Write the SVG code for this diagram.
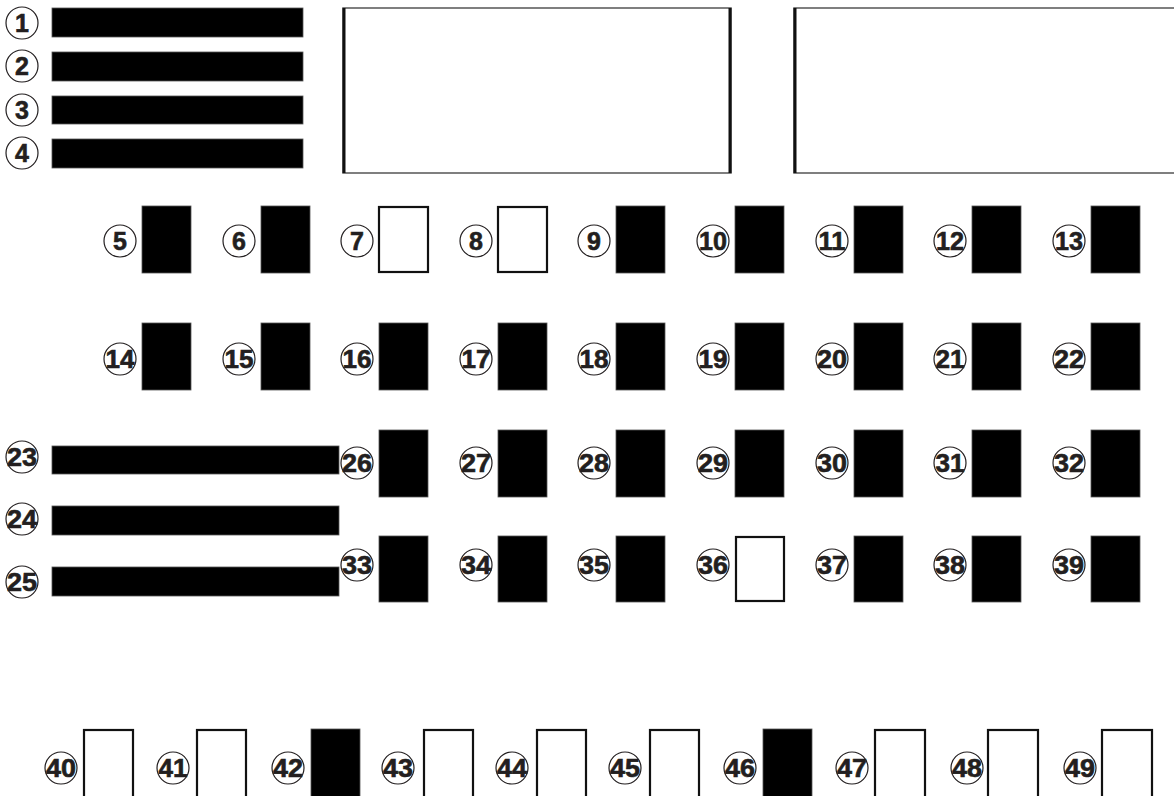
<svg xmlns="http://www.w3.org/2000/svg" width="1174" height="796" viewBox="0 0 1174 796">
<style>
.bk{fill:#000;stroke:#555;stroke-width:0.8}
.wt{fill:#fff;stroke:#111;stroke-width:2.2}
.big{fill:#fff;stroke:#555;stroke-width:1.5}
.side{stroke:#111;stroke-width:3}
.c{fill:#fff;stroke:#231f20;stroke-width:1.2}
.t{font-family:"Liberation Sans",Arial,sans-serif;font-weight:bold;font-size:25px;fill:#231f20;text-anchor:middle;stroke:#231f20;stroke-width:0.6}
</style>
<rect width="1174" height="796" fill="#fff"/>
<g id="panels">
<g id="box-a"><rect class="big" x="343" y="8" width="388" height="165"/><line class="side" x1="344" y1="8" x2="344" y2="173"/><line class="side" x1="730" y1="8" x2="730" y2="173"/></g>
<g id="box-b"><rect class="big" x="794" y="8" width="400" height="165"/><line class="side" x1="795" y1="8" x2="795" y2="173"/></g>
</g>
<g id="connectors"></g>
<g id="n1"><circle class="c" cx="22" cy="23" r="16"/><text class="t" x="22" y="32">1</text><rect class="bk" x="52" y="8" width="251" height="29"/></g>
<g id="n2"><circle class="c" cx="22" cy="66" r="16"/><text class="t" x="22" y="75">2</text><rect class="bk" x="52" y="52" width="251" height="29"/></g>
<g id="n3"><circle class="c" cx="22" cy="110" r="16"/><text class="t" x="22" y="119">3</text><rect class="bk" x="52" y="96" width="251" height="28"/></g>
<g id="n4"><circle class="c" cx="22" cy="153" r="16"/><text class="t" x="22" y="162">4</text><rect class="bk" x="52" y="139" width="251" height="29"/></g>

<g id="n5"><circle class="c" cx="120" cy="241" r="16"/><text class="t" x="120" y="250">5</text><rect class="bk" x="142" y="206" width="49" height="67"/></g>
<g id="n6"><circle class="c" cx="239" cy="241" r="16"/><text class="t" x="239" y="250">6</text><rect class="bk" x="261" y="206" width="49" height="67"/></g>
<g id="n7"><circle class="c" cx="357" cy="241" r="16"/><text class="t" x="357" y="250">7</text><rect class="wt" x="379" y="207" width="49" height="65"/></g>
<g id="n8"><circle class="c" cx="476" cy="241" r="16"/><text class="t" x="476" y="250">8</text><rect class="wt" x="498" y="207" width="49" height="65"/></g>
<g id="n9"><circle class="c" cx="594" cy="241" r="16"/><text class="t" x="594" y="250">9</text><rect class="bk" x="616" y="206" width="49" height="67"/></g>
<g id="n10"><circle class="c" cx="713" cy="241" r="16"/><text class="t" x="713" y="250" textLength="28" lengthAdjust="spacingAndGlyphs">10</text><rect class="bk" x="735" y="206" width="49" height="67"/></g>
<g id="n11"><circle class="c" cx="832" cy="241" r="16"/><text class="t" x="832" y="250" textLength="27" lengthAdjust="spacingAndGlyphs">11</text><rect class="bk" x="854" y="206" width="49" height="67"/></g>
<g id="n12"><circle class="c" cx="950" cy="241" r="16"/><text class="t" x="950" y="250" textLength="28" lengthAdjust="spacingAndGlyphs">12</text><rect class="bk" x="972" y="206" width="49" height="67"/></g>
<g id="n13"><circle class="c" cx="1069" cy="241" r="16"/><text class="t" x="1069" y="250" textLength="28" lengthAdjust="spacingAndGlyphs">13</text><rect class="bk" x="1091" y="206" width="49" height="67"/></g>

<g id="n14"><circle class="c" cx="120" cy="359" r="16"/><text class="t" x="120" y="368" textLength="29" lengthAdjust="spacingAndGlyphs">14</text><rect class="bk" x="142" y="323" width="49" height="67"/></g>
<g id="n15"><circle class="c" cx="239" cy="359" r="16"/><text class="t" x="239" y="368" textLength="29" lengthAdjust="spacingAndGlyphs">15</text><rect class="bk" x="261" y="323" width="49" height="67"/></g>
<g id="n16"><circle class="c" cx="357" cy="359" r="16"/><text class="t" x="357" y="368" textLength="29" lengthAdjust="spacingAndGlyphs">16</text><rect class="bk" x="379" y="323" width="49" height="67"/></g>
<g id="n17"><circle class="c" cx="476" cy="359" r="16"/><text class="t" x="476" y="368" textLength="29" lengthAdjust="spacingAndGlyphs">17</text><rect class="bk" x="498" y="323" width="49" height="67"/></g>
<g id="n18"><circle class="c" cx="594" cy="359" r="16"/><text class="t" x="594" y="368" textLength="29" lengthAdjust="spacingAndGlyphs">18</text><rect class="bk" x="616" y="323" width="49" height="67"/></g>
<g id="n19"><circle class="c" cx="713" cy="359" r="16"/><text class="t" x="713" y="368" textLength="29" lengthAdjust="spacingAndGlyphs">19</text><rect class="bk" x="735" y="323" width="49" height="67"/></g>
<g id="n20"><circle class="c" cx="832" cy="359" r="16"/><text class="t" x="832" y="368" textLength="30" lengthAdjust="spacingAndGlyphs">20</text><rect class="bk" x="854" y="323" width="49" height="67"/></g>
<g id="n21"><circle class="c" cx="950" cy="359" r="16"/><text class="t" x="950" y="368" textLength="29" lengthAdjust="spacingAndGlyphs">21</text><rect class="bk" x="972" y="323" width="49" height="67"/></g>
<g id="n22"><circle class="c" cx="1069" cy="359" r="16"/><text class="t" x="1069" y="368" textLength="30" lengthAdjust="spacingAndGlyphs">22</text><rect class="bk" x="1091" y="323" width="49" height="67"/></g>

<g id="n23"><circle class="c" cx="22" cy="457" r="16"/><text class="t" x="22" y="466" textLength="30" lengthAdjust="spacingAndGlyphs">23</text><rect class="bk" x="52" y="446" width="287" height="28"/></g>
<g id="n24"><circle class="c" cx="22" cy="519" r="16"/><text class="t" x="22" y="528" textLength="30" lengthAdjust="spacingAndGlyphs">24</text><rect class="bk" x="52" y="506" width="287" height="29"/></g>
<g id="n25"><circle class="c" cx="22" cy="582" r="16"/><text class="t" x="22" y="591" textLength="30" lengthAdjust="spacingAndGlyphs">25</text><rect class="bk" x="52" y="567" width="287" height="29"/></g>

<g id="n26"><circle class="c" cx="357" cy="463" r="16"/><text class="t" x="357" y="472" textLength="30" lengthAdjust="spacingAndGlyphs">26</text><rect class="bk" x="379" y="430" width="49" height="67"/></g>
<g id="n27"><circle class="c" cx="476" cy="463" r="16"/><text class="t" x="476" y="472" textLength="30" lengthAdjust="spacingAndGlyphs">27</text><rect class="bk" x="498" y="430" width="49" height="67"/></g>
<g id="n28"><circle class="c" cx="594" cy="463" r="16"/><text class="t" x="594" y="472" textLength="30" lengthAdjust="spacingAndGlyphs">28</text><rect class="bk" x="616" y="430" width="49" height="67"/></g>
<g id="n29"><circle class="c" cx="713" cy="463" r="16"/><text class="t" x="713" y="472" textLength="30" lengthAdjust="spacingAndGlyphs">29</text><rect class="bk" x="735" y="430" width="49" height="67"/></g>
<g id="n30"><circle class="c" cx="832" cy="463" r="16"/><text class="t" x="832" y="472" textLength="30" lengthAdjust="spacingAndGlyphs">30</text><rect class="bk" x="854" y="430" width="49" height="67"/></g>
<g id="n31"><circle class="c" cx="950" cy="463" r="16"/><text class="t" x="950" y="472" textLength="29" lengthAdjust="spacingAndGlyphs">31</text><rect class="bk" x="972" y="430" width="49" height="67"/></g>
<g id="n32"><circle class="c" cx="1069" cy="463" r="16"/><text class="t" x="1069" y="472" textLength="30" lengthAdjust="spacingAndGlyphs">32</text><rect class="bk" x="1091" y="430" width="49" height="67"/></g>

<g id="n33"><circle class="c" cx="357" cy="565" r="16"/><text class="t" x="357" y="574" textLength="30" lengthAdjust="spacingAndGlyphs">33</text><rect class="bk" x="379" y="536" width="49" height="66"/></g>
<g id="n34"><circle class="c" cx="476" cy="565" r="16"/><text class="t" x="476" y="574" textLength="30" lengthAdjust="spacingAndGlyphs">34</text><rect class="bk" x="498" y="536" width="49" height="66"/></g>
<g id="n35"><circle class="c" cx="594" cy="565" r="16"/><text class="t" x="594" y="574" textLength="30" lengthAdjust="spacingAndGlyphs">35</text><rect class="bk" x="616" y="536" width="49" height="66"/></g>
<g id="n36"><circle class="c" cx="713" cy="565" r="16"/><text class="t" x="713" y="574" textLength="30" lengthAdjust="spacingAndGlyphs">36</text><rect class="wt" x="736" y="537" width="48" height="64"/></g>
<g id="n37"><circle class="c" cx="832" cy="565" r="16"/><text class="t" x="832" y="574" textLength="30" lengthAdjust="spacingAndGlyphs">37</text><rect class="bk" x="854" y="536" width="49" height="66"/></g>
<g id="n38"><circle class="c" cx="950" cy="565" r="16"/><text class="t" x="950" y="574" textLength="30" lengthAdjust="spacingAndGlyphs">38</text><rect class="bk" x="972" y="536" width="49" height="66"/></g>
<g id="n39"><circle class="c" cx="1069" cy="565" r="16"/><text class="t" x="1069" y="574" textLength="30" lengthAdjust="spacingAndGlyphs">39</text><rect class="bk" x="1091" y="536" width="49" height="66"/></g>

<g id="n40"><circle class="c" cx="61" cy="768" r="16"/><text class="t" x="61" y="777" textLength="30" lengthAdjust="spacingAndGlyphs">40</text><rect class="wt" x="84" y="730" width="49" height="68"/></g>
<g id="n41"><circle class="c" cx="173" cy="768" r="16"/><text class="t" x="173" y="777" textLength="29" lengthAdjust="spacingAndGlyphs">41</text><rect class="wt" x="197" y="730" width="49" height="68"/></g>
<g id="n42"><circle class="c" cx="288" cy="768" r="16"/><text class="t" x="288" y="777" textLength="30" lengthAdjust="spacingAndGlyphs">42</text><rect class="bk" x="311" y="729" width="49" height="69"/></g>
<g id="n43"><circle class="c" cx="398" cy="768" r="16"/><text class="t" x="398" y="777" textLength="30" lengthAdjust="spacingAndGlyphs">43</text><rect class="wt" x="424" y="730" width="49" height="68"/></g>
<g id="n44"><circle class="c" cx="512" cy="768" r="16"/><text class="t" x="512" y="777" textLength="30" lengthAdjust="spacingAndGlyphs">44</text><rect class="wt" x="537" y="730" width="49" height="68"/></g>
<g id="n45"><circle class="c" cx="625" cy="768" r="16"/><text class="t" x="625" y="777" textLength="30" lengthAdjust="spacingAndGlyphs">45</text><rect class="wt" x="650" y="730" width="49" height="68"/></g>
<g id="n46"><circle class="c" cx="740" cy="768" r="16"/><text class="t" x="740" y="777" textLength="30" lengthAdjust="spacingAndGlyphs">46</text><rect class="bk" x="763" y="729" width="49" height="69"/></g>
<g id="n47"><circle class="c" cx="852" cy="768" r="16"/><text class="t" x="852" y="777" textLength="30" lengthAdjust="spacingAndGlyphs">47</text><rect class="wt" x="875" y="730" width="50" height="68"/></g>
<g id="n48"><circle class="c" cx="967" cy="768" r="16"/><text class="t" x="967" y="777" textLength="30" lengthAdjust="spacingAndGlyphs">48</text><rect class="wt" x="988" y="730" width="50" height="68"/></g>
<g id="n49"><circle class="c" cx="1080" cy="768" r="16"/><text class="t" x="1080" y="777" textLength="30" lengthAdjust="spacingAndGlyphs">49</text><rect class="wt" x="1102" y="730" width="50" height="68"/></g>
</svg>
